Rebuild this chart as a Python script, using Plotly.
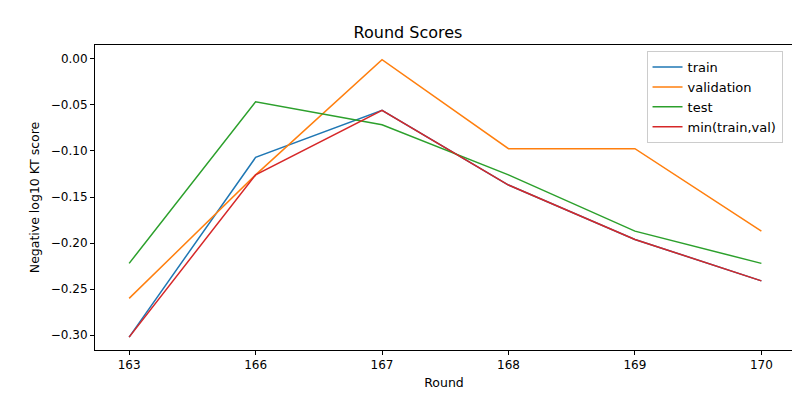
import plotly.graph_objects as go

rounds = ["163", "166", "167", "168", "169", "170"]
train = [-0.302, -0.107, -0.056, -0.137, -0.196, -0.241]
validation = [-0.260, -0.126, -0.001, -0.0975, -0.0975, -0.187]
test = [-0.222, -0.0466, -0.0715, -0.126, -0.187, -0.222]
min_tv = [-0.302, -0.126, -0.056, -0.137, -0.196, -0.241]

series = [("train", train, "#1f77b4"), ("validation", validation, "#ff7f0e"),
          ("test", test, "#2ca02c"), ("min(train,val)", min_tv, "#d62728")]

fig = go.Figure()
for name, vals, col in series:
    fig.add_trace(go.Scatter(x=rounds, y=vals, mode="lines", name=name,
                             line=dict(color=col, width=1.5)))

axis = dict(showgrid=False, zeroline=False, showline=True, mirror=True, linecolor="black",
            linewidth=1, ticks="outside", ticklen=4, tickcolor="black", automargin=False,
            tickfont=dict(size=12, color="black"))
fig.update_layout(
    width=800, height=400, plot_bgcolor="white", paper_bgcolor="white",
    font=dict(family="DejaVu Sans", color="black", size=12),
    margin=dict(l=87, r=15, t=37, b=58, autoexpand=False),
    title=dict(text="Round Scores", x=0.5, xanchor="center", y=0.94, yanchor="middle",
               font=dict(size=16), automargin=False),
    xaxis=dict(axis, type="category", range=[-0.27, 5.25],
               title=dict(text="Round", standoff=6, font=dict(size=12.5))),
    yaxis=dict(axis, range=[-0.316, 0.015], tickformat=".2f", dtick=0.05,
               title=dict(text="Negative log10 KT score", standoff=8, font=dict(size=12.5))),
    legend=dict(x=0.985, y=0.98, xanchor="right", yanchor="top", bordercolor="#cccccc",
                borderwidth=1, bgcolor="rgba(255,255,255,0.8)", font=dict(size=13)),
)
fig.write_html("out.html")
